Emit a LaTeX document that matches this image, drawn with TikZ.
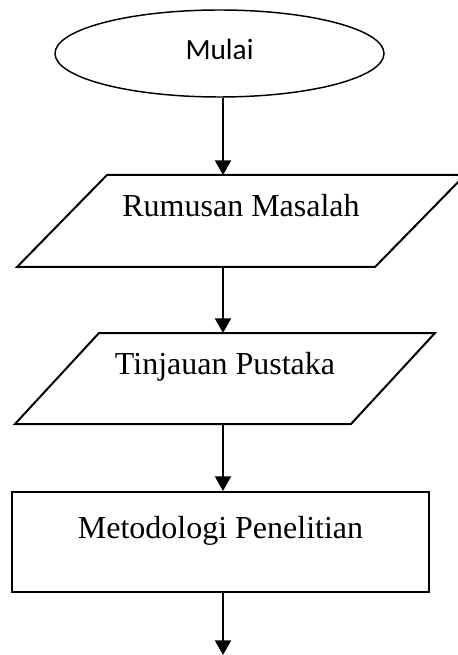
\documentclass[tikz,border=0pt]{standalone}
\usepackage{fontspec}
\setmainfont{Liberation Serif}
\newfontfamily\calibri{Carlito}
\usepackage{tikz}
\usetikzlibrary{shapes}
\usetikzlibrary{positioning}
\usetikzlibrary{arrows.meta}

\tikzset{
 mulaibox/.style={ellipse, draw, line width=1.1pt, minimum width=246.75pt, minimum height=65.25pt,
   inner sep=0pt, font=\calibri\fontsize{22}{26}\selectfont, text height=9.5pt, text depth=0pt},
 databox/.style={rectangle, inner sep=0pt, outer sep=0pt,
   font=\fontsize{24}{28}\selectfont, text height=0pt, text depth=6pt},
 prosesbox/.style={rectangle, draw, line width=1.5pt, minimum width=312.75pt, minimum height=75pt,
   inner sep=0pt, font=\fontsize{24}{28}\selectfont, text height=0pt, text depth=6pt},
 garis/.style={line width=1.5pt, line join=miter},
 panah/.style={-{Triangle[width=12pt,length=11pt]}, line width=1.5pt}
}

\begin{document}
\begin{tikzpicture}[x=0.75pt,y=-0.75pt]
\useasboundingbox (0,0) rectangle (457,655);
\node[mulaibox] (mulai) at (219.5,53.5) {Mulai};
\node[databox, minimum width=268.5pt, minimum height=69pt] (rumusan) at (241,221) {Rumusan Masalah};
\draw[garis] ([xshift=33.75pt]rumusan.north west) -- ([xshift=33.75pt]rumusan.north east)
  -- ([xshift=-33.75pt]rumusan.south east) -- ([xshift=-33.75pt]rumusan.south west) -- cycle;
\node[databox, minimum width=252pt, minimum height=68.25pt] (tinjauan) at (225,378.5) {Tinjauan Pustaka};
\draw[garis] ([xshift=31.5pt]tinjauan.north west) -- ([xshift=31.5pt]tinjauan.north east)
  -- ([xshift=-31.5pt]tinjauan.south east) -- ([xshift=-31.5pt]tinjauan.south west) -- cycle;
\node[prosesbox] (metode) at (220.5,542) {Metodologi Penelitian};
% alur
\coordinate (jalur) at (223,0);
\coordinate (akhir) at (223,655);
\draw[panah] (jalur |- mulai.south) -- (jalur |- rumusan.north);
\draw[panah] (jalur |- rumusan.south) -- (jalur |- tinjauan.north);
\draw[panah] (jalur |- tinjauan.south) -- (jalur |- metode.north);
\draw[panah] (jalur |- metode.south) -- (akhir);
\end{tikzpicture}
\end{document}
